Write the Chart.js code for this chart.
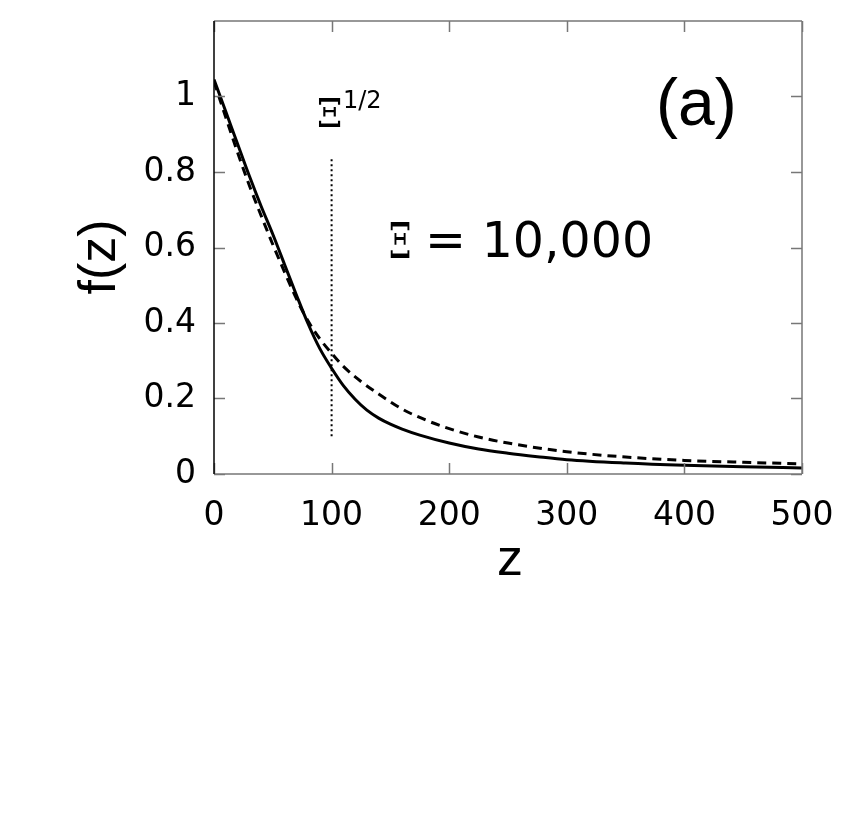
<!DOCTYPE html>
<html>
<head>
<meta charset="utf-8">
<script src="https://cdn.jsdelivr.net/npm/chart.js@4/dist/chart.umd.min.js"></script>
<style>
  body { margin: 0; background: #fff; }
  #myChart { display: block; }
</style>
</head>
<body>
<canvas id="myChart" width="843" height="840"></canvas>
<script>
//实线 f(z)
var zSolid = [0, 10, 20, 30, 40, 50, 60, 70, 80, 90, 100, 110, 120, 130, 140, 150, 160, 175, 200, 225, 250, 275, 300, 350, 400, 450, 500]
var fSolid = [1.045, 0.96, 0.875, 0.79, 0.71, 0.635, 0.555, 0.475, 0.398, 0.332, 0.28, 0.234, 0.198, 0.169, 0.148, 0.132, 0.119, 0.103, 0.082, 0.066, 0.055, 0.046, 0.038, 0.029, 0.023, 0.019, 0.016]
//虚线 f(z)
var zDashed = [0, 10, 20, 30, 40, 50, 60, 70, 80, 90, 100, 110, 125, 140, 160, 180, 200, 225, 250, 300, 350, 400, 450, 500]
var fDashed = [1.04, 0.945, 0.852, 0.765, 0.685, 0.608, 0.535, 0.465, 0.405, 0.358, 0.32, 0.285, 0.245, 0.212, 0.172, 0.143, 0.12, 0.098, 0.082, 0.059, 0.045, 0.036, 0.031, 0.027]
//Ξ^{1/2} 竖线
var markerZ = [100, 100]
var markerF = [0.1, 0.84]
//刻度
var xTicks = [0, 100, 200, 300, 400, 500]
var yTicks = [0, 0.2, 0.4, 0.6, 0.8, 1]
var yLabels = ['0', '0.2', '0.4', '0.6', '0.8', '1']

function toPoints(xs, ys) {
    return xs.map((x, i) => ({ x: x, y: ys[i] }))
}

//边框、向内刻度和文字
var framePlugin = {
    id: 'frame',
    afterDraw(chart) {
        let ctx = chart.ctx
        let a = chart.chartArea
        let sx = chart.scales.x
        let sy = chart.scales.y
        let tl = 11
        ctx.save()
        ctx.lineWidth = 1.5
        ctx.strokeStyle = '#777'
        ctx.beginPath()
        ctx.moveTo(a.left, a.top); ctx.lineTo(a.right, a.top)
        ctx.moveTo(a.right, a.top); ctx.lineTo(a.right, a.bottom)
        ctx.moveTo(a.left, a.bottom); ctx.lineTo(a.right, a.bottom)
        xTicks.forEach(v => {
            let px = Math.round(sx.getPixelForValue(v)) + 0.5
            ctx.moveTo(px, a.bottom); ctx.lineTo(px, a.bottom - tl)
            ctx.moveTo(px, a.top); ctx.lineTo(px, a.top + tl)
        })
        yTicks.forEach(v => {
            let py = Math.round(sy.getPixelForValue(v)) + 0.5
            ctx.moveTo(a.left, py); ctx.lineTo(a.left + tl, py)
            ctx.moveTo(a.right, py); ctx.lineTo(a.right - tl, py)
        })
        ctx.stroke()
        ctx.strokeStyle = '#000'
        ctx.beginPath()
        ctx.moveTo(a.left, a.top); ctx.lineTo(a.left, a.bottom)
        ctx.stroke()

        ctx.fillStyle = '#000'
        //轴标题
        ctx.font = '52px "Liberation Sans"'
        ctx.textAlign = 'center'
        ctx.textBaseline = 'alphabetic'
        ctx.fillText('z', 510, 575)
        ctx.save()
        ctx.translate(115, 257)
        ctx.rotate(-Math.PI / 2)
        ctx.fillText('f(z)', 0, 0)
        ctx.restore()

        //(a)
        ctx.textAlign = 'left'
        ctx.font = '66px "Liberation Sans"'
        ctx.fillText('(a)', 656, 125)

        //Ξ = 10,000
        ctx.save()
        ctx.translate(389, 258)
        ctx.scale(0.66, 1)
        ctx.font = '48px "DejaVu Serif"'
        ctx.fillText('Ξ', 0, 0)
        ctx.restore()
        ctx.font = '49px "DejaVu Sans"'
        ctx.fillText('= 10,000', 425, 257)

        //Ξ^{1/2}
        ctx.save()
        ctx.translate(317, 127)
        ctx.scale(0.9, 1)
        ctx.font = '40px "DejaVu Serif"'
        ctx.fillText('Ξ', 0, 0)
        ctx.restore()
        ctx.font = '24px "DejaVu Sans"'
        ctx.fillText('1/2', 343, 108)
        ctx.restore()
    }
}

var ctx = document.getElementById('myChart').getContext('2d')
var myChart = new Chart(ctx, {
    type: 'scatter',
    data: {
        datasets: [{
            label: 'solid',
            data: toPoints(zSolid, fSolid),
            showLine: true,
            borderColor: '#000',
            borderWidth: 3,
            pointRadius: 0,
            cubicInterpolationMode: 'monotone'
        }, {
            label: 'dashed',
            data: toPoints(zDashed, fDashed),
            showLine: true,
            borderColor: '#000',
            borderWidth: 3,
            borderDash: [9, 6],
            pointRadius: 0,
            cubicInterpolationMode: 'monotone'
        }, {
            label: 'marker',
            data: toPoints(markerZ, markerF),
            showLine: true,
            borderColor: '#000',
            borderWidth: 2,
            borderDash: [2, 3],
            pointRadius: 0
        }]
    },
    options: {
        responsive: false,
        animation: false,
        layout: { padding: { left: 0, top: 21, right: 41, bottom: 0 } },
        plugins: {
            legend: { display: false },
            tooltip: { enabled: false }
        },
        scales: {
            x: {
                type: 'linear',
                min: 0,
                max: 500,
                grid: { display: false },
                border: { display: false },
                afterBuildTicks: s => { s.ticks = xTicks.map(v => ({ value: v })) },
                afterFit: s => { s.height = 366; s.paddingLeft = 0; s.paddingRight = 0 },
                ticks: {
                    color: '#000',
                    padding: 15,
                    maxRotation: 0,
                    autoSkip: false,
                    font: { family: 'DejaVu Sans', size: 33 }
                }
            },
            y: {
                type: 'linear',
                min: 0,
                max: 1.2,
                grid: { display: false },
                border: { display: false },
                afterBuildTicks: s => { s.ticks = yTicks.map(v => ({ value: v })) },
                afterFit: s => { s.width = 214; s.paddingTop = 0; s.paddingBottom = 0 },
                ticks: {
                    color: '#000',
                    padding: 10,
                    autoSkip: false,
                    font: { family: 'DejaVu Sans', size: 33 },
                    callback: (v) => yLabels[yTicks.indexOf(v)] ?? ''
                }
            }
        }
    },
    plugins: [framePlugin]
})
</script>
</body>
</html>
